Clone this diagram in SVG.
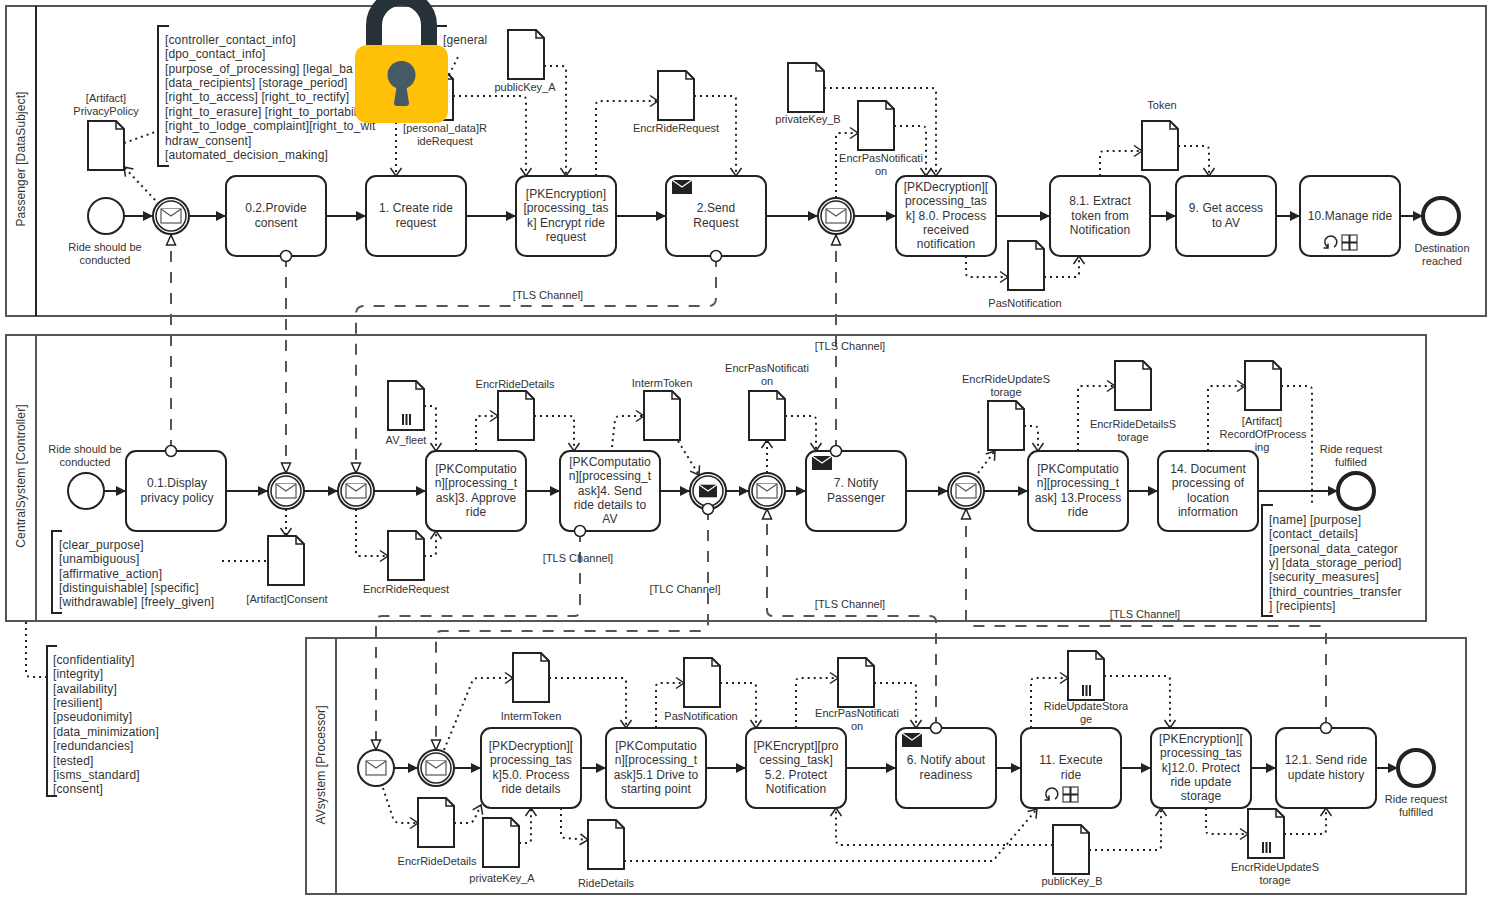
<svg xmlns="http://www.w3.org/2000/svg" width="1492" height="900" viewBox="0 0 1492 900">
<style>
text{font-family:"Liberation Sans",Arial,sans-serif;fill:#333}
.t{font-size:12px;text-anchor:middle;letter-spacing:.08px}
.l{font-size:11px;text-anchor:middle}
.a{font-size:12px;letter-spacing:.13px}
.pl{font-size:12px;text-anchor:middle;letter-spacing:.1px}
.pool{fill:none;stroke:#555;stroke-width:2}
.div{fill:none;stroke:#222;stroke-width:2}
.task{fill:#fff;stroke:#222;stroke-width:2}
.ev{fill:#fff;stroke:#222;stroke-width:2}
.evi{fill:none;stroke:#222;stroke-width:1.5}
.end{fill:#fff;stroke:#222;stroke-width:4}
.doc{fill:#fff;stroke:#222;stroke-width:2}
.fold{fill:none;stroke:#222;stroke-width:1.5}
.env{fill:#fff;stroke:#555;stroke-width:1.2}
.br{fill:none;stroke:#222;stroke-width:2}
.seq{fill:none;stroke:#222;stroke-width:2;marker-end:url(#mSeq)}
.msg{fill:none;stroke:#555;stroke-width:2;stroke-dasharray:11 10;marker-end:url(#mTri);marker-start:url(#mSrc)}
.as{fill:none;stroke:#222;stroke-width:2;stroke-dasharray:2 4}
.asa{marker-end:url(#mOpen)}
.bar{fill:#222}
.mk{fill:none;stroke:#222;stroke-width:1.5}
.mb{fill:#fff;stroke:#666;stroke-width:1.5}
.mp{fill:none;stroke:#222;stroke-width:2}
</style>
<defs>
<marker id="mSeq" markerUnits="userSpaceOnUse" markerWidth="11" markerHeight="12" refX="10" refY="6" orient="auto"><path d="M0,1 L10,6 L0,11 Z" fill="#222"/></marker>
<marker id="mOpen" markerUnits="userSpaceOnUse" markerWidth="12" markerHeight="14" refX="9" refY="7" orient="auto"><path d="M1,1.5 L9,7 L1,12.5" fill="none" stroke="#222" stroke-width="1.5"/></marker>
<marker id="mTri" markerUnits="userSpaceOnUse" markerWidth="12" markerHeight="12" refX="11" refY="6" orient="auto"><path d="M1,1.5 L11,6 L1,10.5 Z" fill="#fff" stroke="#222" stroke-width="1.5"/></marker>
<marker id="mSrc" markerUnits="userSpaceOnUse" markerWidth="14" markerHeight="14" refX="7" refY="7" orient="auto"><circle cx="7" cy="7" r="5.5" fill="#fff" stroke="#222" stroke-width="1.5"/></marker>
<g id="docS"><path class="doc" d="M0,0 H28 L36,8 V49 H0 Z"/><path class="fold" d="M28,0 V8 H36"/></g>
<g id="bars"><rect class="bar" x="0" y="0" width="2" height="11"/><rect class="bar" x="3.5" y="0" width="2" height="11"/><rect class="bar" x="7" y="0" width="2" height="11"/></g>
<g id="envO"><rect class="env" x="-10" y="-7" width="20" height="14"/><path class="env" d="M-10,-7 L0,0 L10,-7"/></g>
<g id="envF"><rect fill="#222" x="-10" y="-7" width="20" height="14"/><path d="M-10,-7 L0,0 L10,-7" fill="none" stroke="#fff" stroke-width="1.2"/></g>
<g id="loopSub"><path class="mk" d="M3,4 A6,6 0 1 0 -3,4.2 M-3,0.5 V5 H-7.5"/><rect class="mb" x="11" y="-8" width="15" height="15"/><path class="mp" d="M18.5,-8 V7 M11,-0.5 H26"/></g>
</defs>

<g id="pools">
<g id="pool-passenger"><rect class="pool" x="6" y="6" width="1480" height="310"/><path class="div" d="M36,6 V316"/><text class="pl" transform="translate(25,159) rotate(-90)">Passenger [DataSubject]</text></g>
<g id="pool-central"><rect class="pool" x="6" y="335" width="1420" height="286"/><path class="pool" d="M36,335 V621"/><text class="pl" transform="translate(25,476) rotate(-90)">CentralSystem [Controller]</text></g>
<g id="pool-av"><rect class="pool" x="306" y="638" width="1160" height="256"/><path class="pool" d="M336,638 V894"/><text class="pl" transform="translate(325,765) rotate(-90)">AVsystem [Processor]</text></g>
</g>

<g id="nodes">
<!-- Passenger -->
<g id="p-start"><circle class="ev" cx="106" cy="216" r="18"/><text class="l" x="105" y="251">Ride should be</text><text class="l" x="105" y="264">conducted</text></g>
<g id="p-catch1"><circle class="ev" cx="171" cy="216" r="18"/><circle class="evi" cx="171" cy="216" r="15"/><use href="#envO" x="171" y="216"/></g>
<g id="t-02"><rect class="task" x="226" y="176" width="100" height="80" rx="10"/><text class="t" x="276" y="212">0.2.Provide</text><text class="t" x="276" y="227">consent</text></g>
<g id="t-1"><rect class="task" x="366" y="176" width="100" height="80" rx="10"/><text class="t" x="416" y="212">1. Create ride</text><text class="t" x="416" y="227">request</text></g>
<g id="t-enc"><rect class="task" x="516" y="176" width="100" height="80" rx="10"/><text class="t" x="566" y="198">[PKEncryption]</text><text class="t" x="566" y="212">[processing_tas</text><text class="t" x="566" y="227">k] Encrypt ride</text><text class="t" x="566" y="241">request</text></g>
<g id="t-2"><rect class="task" x="666" y="176" width="100" height="80" rx="10"/><use href="#envF" x="682" y="187"/><text class="t" x="716" y="212">2.Send</text><text class="t" x="716" y="227">Request</text></g>
<g id="p-catch2"><circle class="ev" cx="836" cy="216" r="18"/><circle class="evi" cx="836" cy="216" r="15"/><use href="#envO" x="836" y="216"/></g>
<g id="t-80"><rect class="task" x="896" y="176" width="100" height="80" rx="10"/><text class="t" x="946" y="191">[PKDecryption][</text><text class="t" x="946" y="205">processing_tas</text><text class="t" x="946" y="220">k] 8.0. Process</text><text class="t" x="946" y="234">received</text><text class="t" x="946" y="248">notification</text></g>
<g id="t-81"><rect class="task" x="1050" y="176" width="100" height="80" rx="10"/><text class="t" x="1100" y="205">8.1. Extract</text><text class="t" x="1100" y="220">token from</text><text class="t" x="1100" y="234">Notification</text></g>
<g id="t-9"><rect class="task" x="1176" y="176" width="100" height="80" rx="10"/><text class="t" x="1226" y="212">9. Get access</text><text class="t" x="1226" y="227">to AV</text></g>
<g id="t-10"><rect class="task" x="1300" y="176" width="100" height="80" rx="10"/><text class="t" x="1350" y="220">10.Manage ride</text><use href="#loopSub" x="1331" y="243"/></g>
<g id="p-end"><circle class="end" cx="1441" cy="216" r="18"/><text class="l" x="1442" y="252">Destination</text><text class="l" x="1442" y="265">reached</text></g>
<g id="d-privacy"><use href="#docS" x="88" y="121"/><text class="l" x="106" y="102">[Artifact]</text><text class="l" x="106" y="115">PrivacyPolicy</text></g>
<g id="d-riderequest"><use href="#docS" x="417" y="71"/><text class="l" x="445" y="132">[personal_data]R</text><text class="l" x="445" y="145">ideRequest</text></g>
<g id="d-pubA"><use href="#docS" x="508" y="30"/><text class="l" x="525" y="91">publicKey_A</text></g>
<g id="d-encrreq"><use href="#docS" x="658" y="71"/><text class="l" x="676" y="132">EncrRideRequest</text></g>
<g id="d-privB"><use href="#docS" x="788" y="63"/><text class="l" x="808" y="123">privateKey_B</text></g>
<g id="d-encrpas"><use href="#docS" x="858" y="101"/><text class="l" x="881" y="162">EncrPasNotificati</text><text class="l" x="881" y="175">on</text></g>
<g id="d-pas"><use href="#docS" x="1008" y="241"/><text class="l" x="1025" y="307">PasNotification</text></g>
<g id="d-token"><use href="#docS" x="1142" y="121"/><text class="l" x="1162" y="109">Token</text></g>
<g id="ann-privacy"><path class="br" d="M169,26 H158 V166 H169"/><text class="a" x="165" y="44">[controller_contact_info]</text><text class="a" x="165" y="58">[dpo_contact_info]</text><text class="a" x="165" y="73">[purpose_of_processing] [legal_ba</text><text class="a" x="165" y="87">[data_recipients] [storage_period]</text><text class="a" x="165" y="101">[right_to_access] [right_to_rectify]</text><text class="a" x="165" y="116">[right_to_erasure] [right_to_portabil</text><text class="a" x="165" y="130">[right_to_lodge_complaint][right_to_wit</text><text class="a" x="165" y="145">hdraw_consent]</text><text class="a" x="165" y="159">[automated_decision_making]</text></g>
<g id="ann-general"><path class="br" d="M447,26 H437"/><text class="a" x="443" y="44">[general</text></g>
<!-- Central -->
<g id="c-start"><circle class="ev" cx="86" cy="491" r="18"/><text class="l" x="85" y="453">Ride should be</text><text class="l" x="85" y="466">conducted</text></g>
<g id="t-01"><rect class="task" x="126" y="451" width="100" height="80" rx="10"/><text class="t" x="177" y="487">0.1.Display</text><text class="t" x="177" y="502">privacy policy</text></g>
<g id="c-catch1"><circle class="ev" cx="286" cy="491" r="18"/><circle class="evi" cx="286" cy="491" r="15"/><use href="#envO" x="286" y="491"/></g>
<g id="c-catch2"><circle class="ev" cx="356" cy="491" r="18"/><circle class="evi" cx="356" cy="491" r="15"/><use href="#envO" x="356" y="491"/></g>
<g id="t-3"><rect class="task" x="426" y="451" width="100" height="80" rx="10"/><text class="t" x="476" y="473">[PKComputatio</text><text class="t" x="476" y="487">n][processing_t</text><text class="t" x="476" y="502">ask]3. Approve</text><text class="t" x="476" y="516">ride</text></g>
<g id="t-4"><rect class="task" x="560" y="451" width="100" height="80" rx="10"/><text class="t" x="610" y="466">[PKComputatio</text><text class="t" x="610" y="480">n][processing_t</text><text class="t" x="610" y="495">ask]4. Send</text><text class="t" x="610" y="509">ride details to</text><text class="t" x="610" y="523">AV</text></g>
<g id="c-throw"><circle class="ev" cx="708" cy="491" r="18"/><circle class="evi" cx="708" cy="491" r="15"/><use href="#envF" x="708" y="491" transform="translate(70.8,49.1) scale(.9)"/></g>
<g id="c-catch3"><circle class="ev" cx="767" cy="491" r="18"/><circle class="evi" cx="767" cy="491" r="15"/><use href="#envO" x="767" y="491"/></g>
<g id="t-7"><rect class="task" x="806" y="451" width="100" height="80" rx="10"/><use href="#envF" x="822" y="463"/><text class="t" x="856" y="487">7. Notify</text><text class="t" x="856" y="502">Passenger</text></g>
<g id="c-catch4"><circle class="ev" cx="966" cy="491" r="18"/><circle class="evi" cx="966" cy="491" r="15"/><use href="#envO" x="966" y="491"/></g>
<g id="t-13"><rect class="task" x="1028" y="451" width="100" height="80" rx="10"/><text class="t" x="1078" y="473">[PKComputatio</text><text class="t" x="1078" y="487">n][processing_t</text><text class="t" x="1078" y="502">ask] 13.Process</text><text class="t" x="1078" y="516">ride</text></g>
<g id="t-14"><rect class="task" x="1158" y="451" width="100" height="80" rx="10"/><text class="t" x="1208" y="473">14. Document</text><text class="t" x="1208" y="487">processing of</text><text class="t" x="1208" y="502">location</text><text class="t" x="1208" y="516">information</text></g>
<g id="c-end"><circle class="end" cx="1356" cy="491" r="18"/><text class="l" x="1351" y="453">Ride request</text><text class="l" x="1351" y="466">fulfiled</text></g>
<g id="d-fleet"><use href="#docS" x="388" y="381"/><use href="#bars" x="402" y="414"/><text class="l" x="406" y="444">AV_fleet</text></g>
<g id="d-encrdet"><use href="#docS" x="498" y="391"/><text class="l" x="515" y="388">EncrRideDetails</text></g>
<g id="d-interm"><use href="#docS" x="644" y="391"/><text class="l" x="662" y="387">IntermToken</text></g>
<g id="d-encrpas2"><use href="#docS" x="749" y="391"/><text class="l" x="767" y="372">EncrPasNotificati</text><text class="l" x="767" y="385">on</text></g>
<g id="d-encrupd"><use href="#docS" x="988" y="401"/><text class="l" x="1006" y="383">EncrRideUpdateS</text><text class="l" x="1006" y="396">torage</text></g>
<g id="d-encrdetst"><use href="#docS" x="1115" y="361"/><text class="l" x="1133" y="428">EncrRideDetailsS</text><text class="l" x="1133" y="441">torage</text></g>
<g id="d-record"><use href="#docS" x="1245" y="361"/><text class="l" x="1262" y="425">[Artifact]</text><text class="l" x="1263" y="438">RecordOfProcess</text><text class="l" x="1262" y="451">ing</text></g>
<g id="d-consent"><use href="#docS" x="268" y="536"/><text class="l" x="287" y="603">[Artifact]Consent</text></g>
<g id="d-encrreq2"><use href="#docS" x="388" y="531"/><text class="l" x="406" y="593">EncrRideRequest</text></g>
<g id="ann-consent"><path class="br" d="M62,531 H52 V613 H62"/><text class="a" x="59" y="549">[clear_purpose]</text><text class="a" x="59" y="563">[unambiguous]</text><text class="a" x="59" y="578">[affirmative_action]</text><text class="a" x="59" y="592">[distinguishable] [specific]</text><text class="a" x="59" y="606">[withdrawable] [freely_given]</text></g>
<g id="ann-record"><path class="br" d="M1273,505 H1262 V616 H1273"/><text class="a" x="1269" y="524">[name] [purpose]</text><text class="a" x="1269" y="538">[contact_details]</text><text class="a" x="1269" y="553">[personal_data_categor</text><text class="a" x="1269" y="567">y] [data_storage_period]</text><text class="a" x="1269" y="581">[security_measures]</text><text class="a" x="1269" y="596">[third_countries_transfer</text><text class="a" x="1269" y="610">] [recipients]</text></g>
<g id="ann-security"><path class="br" d="M57,646 H47 V796 H57"/><text class="a" x="53" y="664">[confidentiality]</text><text class="a" x="53" y="678">[integrity]</text><text class="a" x="53" y="693">[availability]</text><text class="a" x="53" y="707">[resilient]</text><text class="a" x="53" y="721">[pseudonimity]</text><text class="a" x="53" y="736">[data_minimization]</text><text class="a" x="53" y="750">[redundancies]</text><text class="a" x="53" y="765">[tested]</text><text class="a" x="53" y="779">[isms_standard]</text><text class="a" x="53" y="793">[consent]</text></g>
<!-- AV -->
<g id="a-start"><circle class="ev" cx="376" cy="768" r="18"/><use href="#envO" x="376" y="768"/></g>
<g id="a-catch"><circle class="ev" cx="436" cy="768" r="18"/><circle class="evi" cx="436" cy="768" r="15"/><use href="#envO" x="436" y="768"/></g>
<g id="t-50"><rect class="task" x="481" y="728" width="100" height="80" rx="10"/><text class="t" x="531" y="750">[PKDecryption][</text><text class="t" x="531" y="764">processing_tas</text><text class="t" x="531" y="779">k]5.0. Process</text><text class="t" x="531" y="793">ride details</text></g>
<g id="t-51"><rect class="task" x="606" y="728" width="100" height="80" rx="10"/><text class="t" x="656" y="750">[PKComputatio</text><text class="t" x="656" y="764">n][processing_t</text><text class="t" x="656" y="779">ask]5.1 Drive to</text><text class="t" x="656" y="793">starting point</text></g>
<g id="t-52"><rect class="task" x="746" y="728" width="100" height="80" rx="10"/><text class="t" x="796" y="750">[PKEncrypt][pro</text><text class="t" x="796" y="764">cessing_task]</text><text class="t" x="796" y="779">5.2. Protect</text><text class="t" x="796" y="793">Notification</text></g>
<g id="t-6"><rect class="task" x="896" y="728" width="100" height="80" rx="10"/><use href="#envF" x="912" y="740"/><text class="t" x="946" y="764">6. Notify about</text><text class="t" x="946" y="779">readiness</text></g>
<g id="t-11"><rect class="task" x="1021" y="728" width="100" height="80" rx="10"/><text class="t" x="1071" y="764">11. Execute</text><text class="t" x="1071" y="779">ride</text><use href="#loopSub" x="1052" y="795"/></g>
<g id="t-120"><rect class="task" x="1151" y="728" width="100" height="80" rx="10"/><text class="t" x="1201" y="743">[PKEncryption][</text><text class="t" x="1201" y="757">processing_tas</text><text class="t" x="1201" y="772">k]12.0. Protect</text><text class="t" x="1201" y="786">ride update</text><text class="t" x="1201" y="800">storage</text></g>
<g id="t-121"><rect class="task" x="1276" y="728" width="100" height="80" rx="10"/><text class="t" x="1326" y="764">12.1. Send ride</text><text class="t" x="1326" y="779">update history</text></g>
<g id="a-end"><circle class="end" cx="1416" cy="768" r="18"/><text class="l" x="1416" y="803">Ride request</text><text class="l" x="1416" y="816">fulfilled</text></g>
<g id="d-interm3"><use href="#docS" x="513" y="653"/><text class="l" x="531" y="720">IntermToken</text></g>
<g id="d-pas3"><use href="#docS" x="684" y="658"/><text class="l" x="701" y="720">PasNotification</text></g>
<g id="d-encrpas3"><use href="#docS" x="838" y="658"/><text class="l" x="857" y="717">EncrPasNotificati</text><text class="l" x="857" y="730">on</text></g>
<g id="d-rideupd"><use href="#docS" x="1068" y="651"/><use href="#bars" x="1082" y="685"/><text class="l" x="1086" y="710">RideUpdateStora</text><text class="l" x="1086" y="723">ge</text></g>
<g id="d-encrdet3"><use href="#docS" x="418" y="798"/><text class="l" x="437" y="865">EncrRideDetails</text></g>
<g id="d-privA"><use href="#docS" x="483" y="818"/><text class="l" x="502" y="882">privateKey_A</text></g>
<g id="d-ridedet"><use href="#docS" x="588" y="820"/><text class="l" x="606" y="887">RideDetails</text></g>
<g id="d-pubB"><use href="#docS" x="1053" y="825"/><text class="l" x="1072" y="885">publicKey_B</text></g>
<g id="d-encrupd3"><use href="#docS" x="1248" y="809"/><use href="#bars" x="1262" y="842"/><text class="l" x="1275" y="871">EncrRideUpdateS</text><text class="l" x="1275" y="884">torage</text></g>
</g>

<g id="connectors">
<g id="sequence-flows">
<path class="seq" d="M124,216 H153"/><path class="seq" d="M189,216 H226"/><path class="seq" d="M326,216 H366"/><path class="seq" d="M466,216 H516"/><path class="seq" d="M616,216 H666"/><path class="seq" d="M766,216 H818"/><path class="seq" d="M854,216 H896"/><path class="seq" d="M996,216 H1050"/><path class="seq" d="M1150,216 H1176"/><path class="seq" d="M1276,216 H1300"/><path class="seq" d="M1400,216 H1423"/>
<path class="seq" d="M104,491 H126"/><path class="seq" d="M226,491 H268"/><path class="seq" d="M304,491 H338"/><path class="seq" d="M374,491 H426"/><path class="seq" d="M526,491 H560"/><path class="seq" d="M660,491 H690"/><path class="seq" d="M726,491 H749"/><path class="seq" d="M785,491 H806"/><path class="seq" d="M906,491 H948"/><path class="seq" d="M984,491 H1028"/><path class="seq" d="M1128,491 H1158"/><path class="seq" d="M1258,491 H1338"/>
<path class="seq" d="M394,768 H418"/><path class="seq" d="M454,768 H481"/><path class="seq" d="M581,768 H606"/><path class="seq" d="M706,768 H746"/><path class="seq" d="M846,768 H896"/><path class="seq" d="M996,768 H1021"/><path class="seq" d="M1121,768 H1151"/><path class="seq" d="M1251,768 H1276"/><path class="seq" d="M1376,768 H1398"/>
</g>
<g id="message-flows">
<path class="msg" d="M171,451 V235"/>
<path class="msg" d="M286,256 V473"/>
<path class="msg" d="M716,256 V298 Q716,306 708,306 H364 Q356,306 356,314 V473"/>
<path class="msg" d="M836,451 V235"/>
<path class="msg" d="M580,531 V610 Q580,616 574,616 H382 Q376,616 376,622 V750"/>
<path class="msg" d="M708,509 V623 Q708,631 700,631 H442 Q436,631 436,637 V750"/>
<path class="msg" d="M936,728 V622 Q936,616 930,616 H773 Q767,616 767,610 V509"/>
<path class="msg" d="M1326,728 V632 Q1326,626 1320,626 H972 Q966,626 966,620 V509"/>
<text class="l" x="548" y="299">[TLS Channel]</text><text class="l" x="850" y="350">[TLS Channel]</text><text class="l" x="578" y="562">[TLS Channel]</text><text class="l" x="685" y="593">[TLC Channel]</text><text class="l" x="850" y="608">[TLS Channel]</text><text class="l" x="1145" y="618">[TLS Channel]</text>
</g>
<g id="data-associations">
<path class="as asa" d="M155,200 L124,167"/>
<path class="as" d="M124,143 L158,131"/>
<path class="as" d="M449,75 L458,57"/>
<path class="as asa" d="M396,122 V176"/>
<path class="as asa" d="M453,96 H522 Q526,96 526,100 V176"/>
<path class="as asa" d="M544,66 H562 Q566,66 566,70 V176"/>
<path class="as asa" d="M596,176 V105 Q596,101 600,101 H658"/>
<path class="as asa" d="M694,96 H732 Q736,96 736,100 V176"/>
<path class="as asa" d="M824,88 H932 Q936,88 936,92 V176"/>
<path class="as asa" d="M836,198 V137 Q836,133 840,133 H858"/>
<path class="as asa" d="M894,126 H922 Q926,126 926,130 V176"/>
<path class="as asa" d="M966,256 V273 Q966,277 970,277 H1008"/>
<path class="as asa" d="M1044,277 H1075 Q1079,277 1079,273 V256"/>
<path class="as asa" d="M1100,176 V155 Q1100,151 1104,151 H1142"/>
<path class="as asa" d="M1178,146 H1205 Q1209,146 1209,150 V176"/>
<path class="as asa" d="M424,406 H432 Q436,406 436,410 V451"/>
<path class="as asa" d="M424,556 H432 Q436,556 436,552 V531"/>
<path class="as asa" d="M356,509 V552 Q356,556 360,556 H388"/>
<path class="as asa" d="M286,509 V536"/>
<path class="as" d="M222,561 H268"/>
<path class="as asa" d="M476,451 V420 Q476,416 480,416 H498"/>
<path class="as asa" d="M534,416 H570 Q574,416 574,420 V451"/>
<path class="as asa" d="M612,447 L615,420 Q616,416 620,416 H644"/>
<path class="as asa" d="M678,441 L699,475"/>
<path class="as asa" d="M767,473 V440"/>
<path class="as asa" d="M785,416 H812 Q816,416 816,420 V451"/>
<path class="as asa" d="M978,473 L995,451"/>
<path class="as asa" d="M1024,426 H1034 Q1038,426 1038,430 V451"/>
<path class="as asa" d="M1078,451 V390 Q1078,386 1082,386 H1115"/>
<path class="as asa" d="M1208,451 V390 Q1208,386 1212,386 H1245"/>
<path class="as" d="M1281,386 H1308 Q1312,386 1312,390 V503"/>
<path class="as" d="M26,622 V672 Q26,677 31,677 H47"/>
<path class="as asa" d="M383,788 L393,818 Q395,823 400,823 H418"/>
<path class="as asa" d="M454,823 H468 Q472,823 474,820 L481,805"/>
<path class="as asa" d="M519,843 H527 Q531,843 531,839 V808"/>
<path class="as asa" d="M561,808 V834 Q561,838 566,838 L588,840"/>
<path class="as asa" d="M444,750 L472,682 Q474,678 478,678 H513"/>
<path class="as asa" d="M549,678 H622 Q626,678 626,682 V728"/>
<path class="as asa" d="M656,728 V687 Q656,683 660,683 H684"/>
<path class="as asa" d="M720,683 H752 Q756,683 756,687 V728"/>
<path class="as asa" d="M796,728 V682 Q796,678 800,678 H838"/>
<path class="as asa" d="M874,683 H912 Q916,683 916,687 V728"/>
<path class="as asa" d="M1031,728 V682 Q1031,678 1035,678 H1068"/>
<path class="as asa" d="M1104,676 H1166 Q1170,676 1170,680 V728"/>
<path class="as asa" d="M1206,808 V830 Q1206,834 1210,834 H1248"/>
<path class="as asa" d="M1284,834 H1322 Q1326,834 1326,830 V808"/>
<path class="as asa" d="M1053,845 H842 Q836,845 836,839 V808"/>
<path class="as asa" d="M1089,850 H1157 Q1161,850 1161,846 V808"/>
<path class="as asa" d="M624,861 H990 Q994,861 996,857 L1037,809"/>
</g>
</g>

<g id="padlock">
<path d="M374,46 V25 A27.5,27.5 0 0 1 429,25 V46" fill="none" stroke="#263238" stroke-width="16"/>
<rect x="355" y="45" width="93" height="78" rx="12" fill="#FFC107"/>
<circle cx="401.5" cy="75" r="14" fill="#455A64"/>
<path d="M397,84 H406 L409,103 Q409,106 406,106 H397 Q394,106 394,103 Z" fill="#455A64"/>
</g>
</svg>
